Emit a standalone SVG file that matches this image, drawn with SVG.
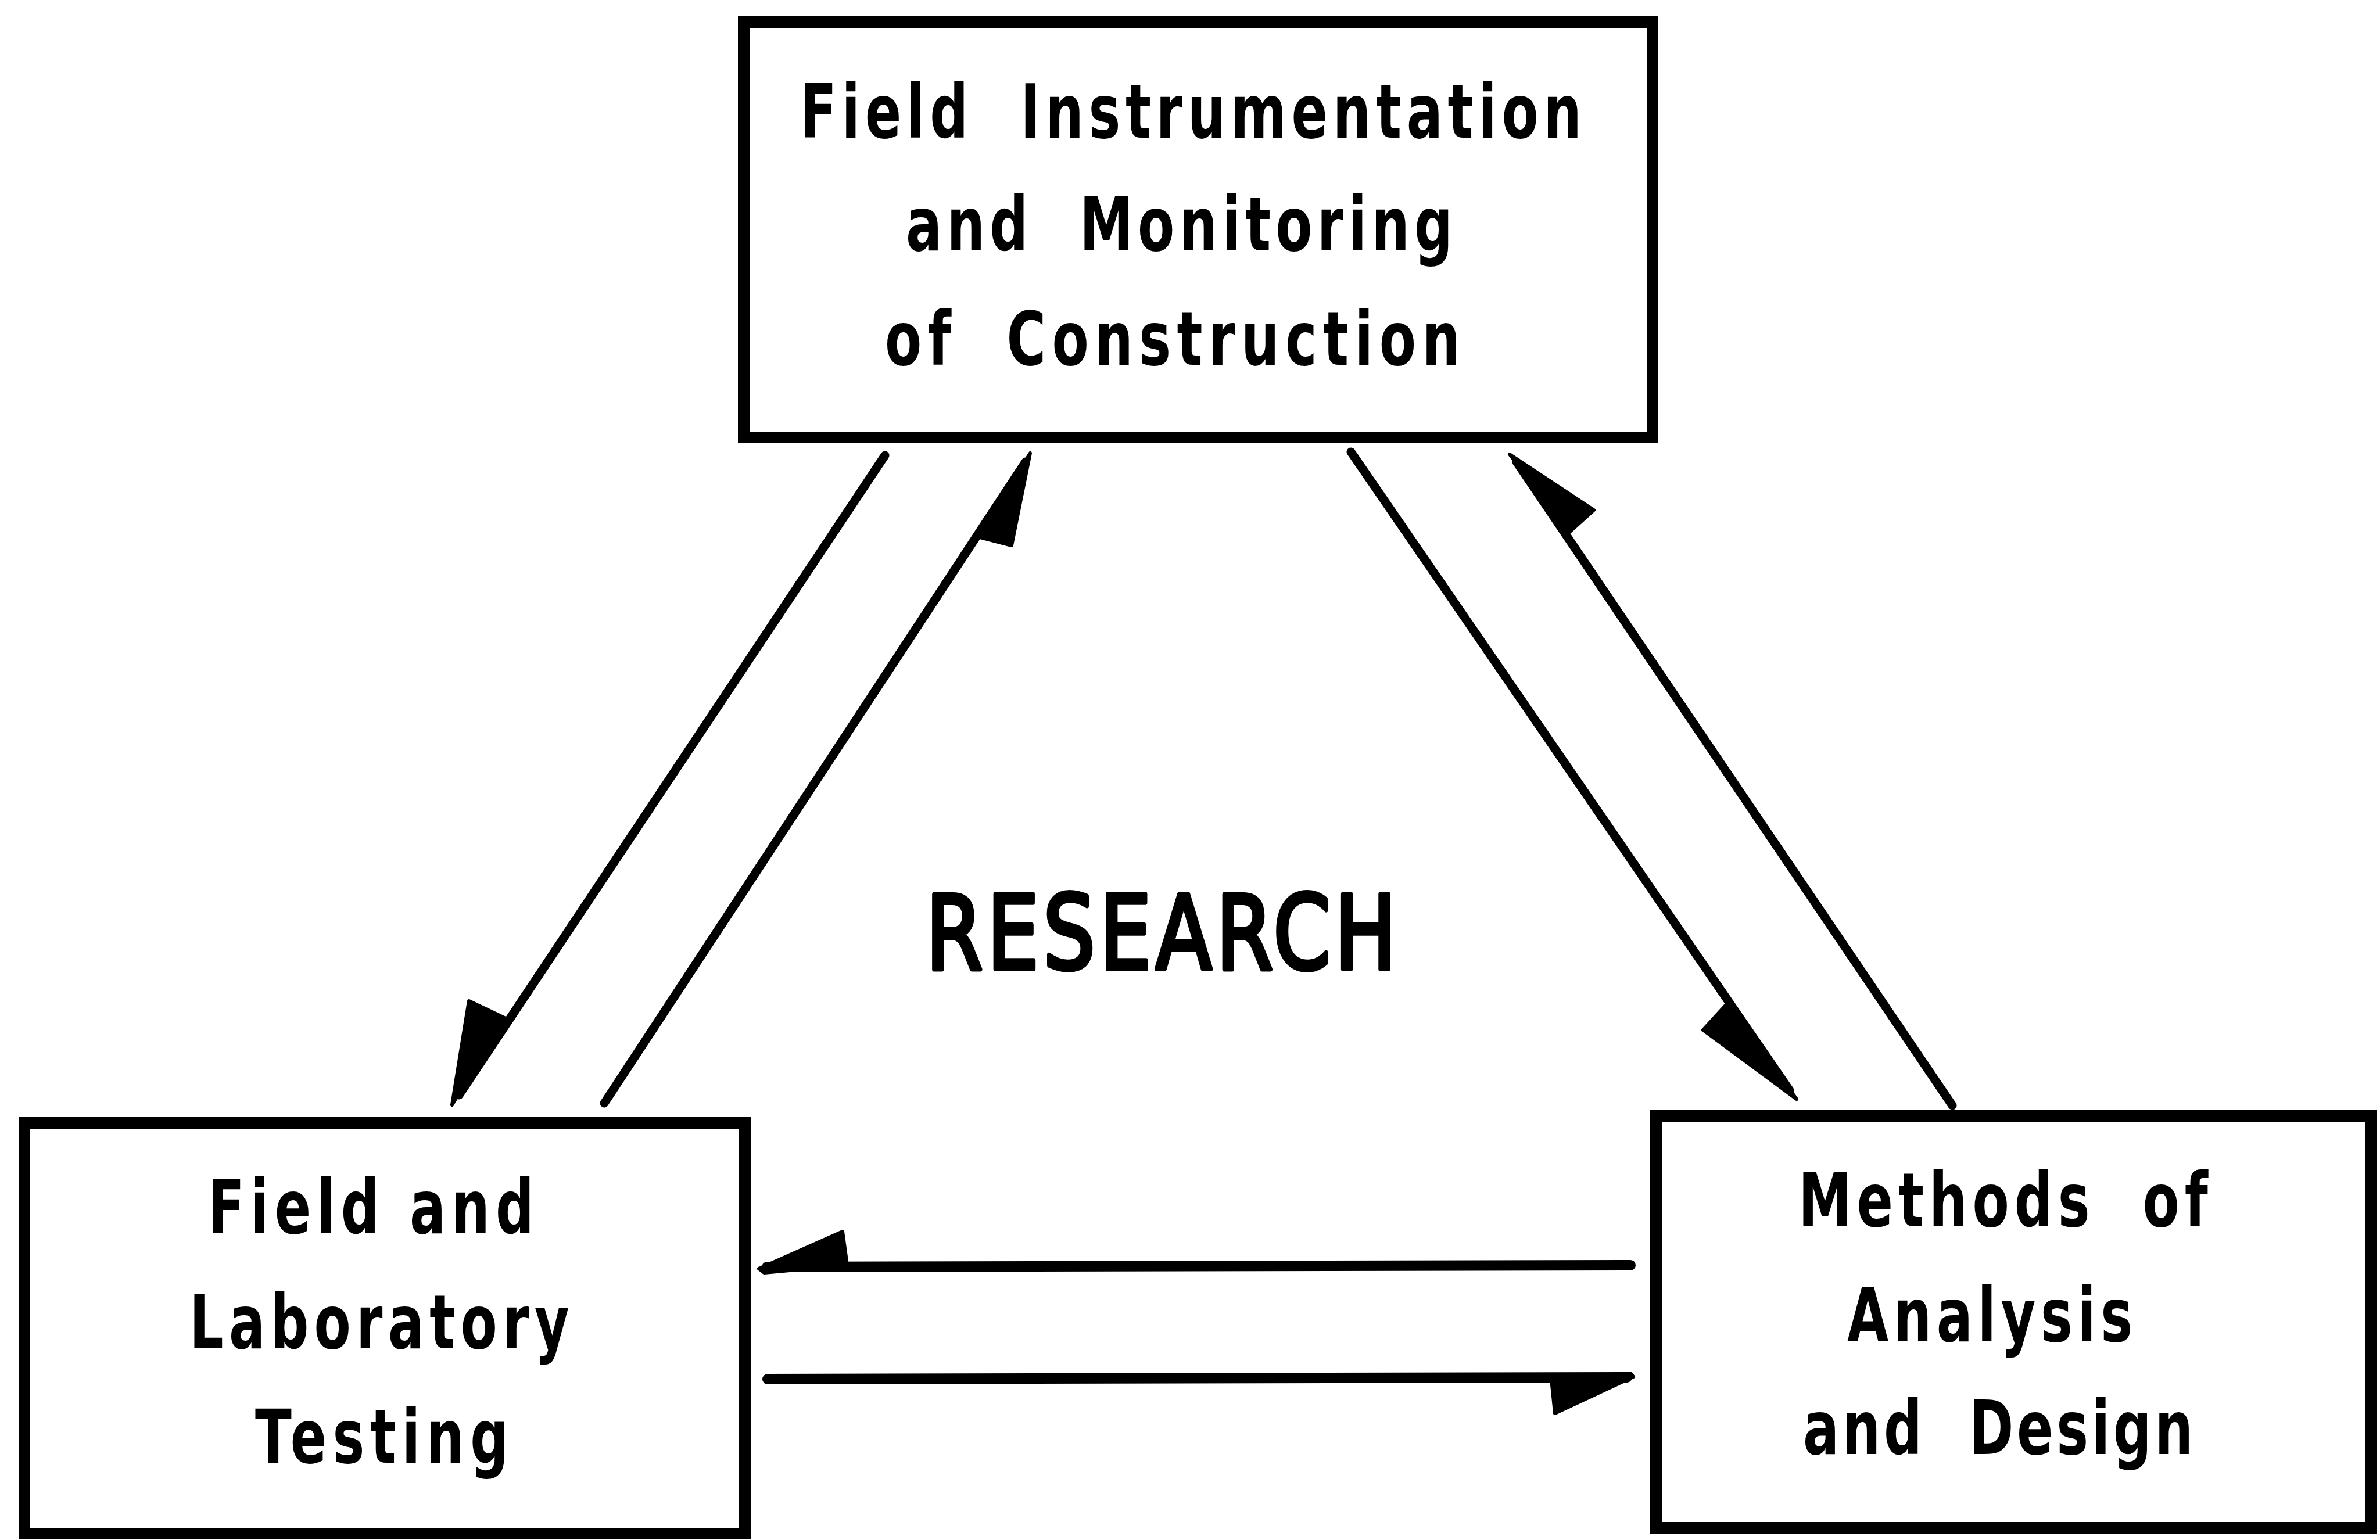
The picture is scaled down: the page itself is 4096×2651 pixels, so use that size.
<svg xmlns="http://www.w3.org/2000/svg" width="4096" height="2651" viewBox="0 0 4096 2651">
<style>
.box{fill:#fff;stroke:#000;stroke-width:20}
.t{font-family:"DejaVu Sans","Liberation Sans",sans-serif;font-size:128px;font-weight:bold;fill:#000;white-space:pre}
.big{font-family:"DejaVu Sans","Liberation Sans",sans-serif;font-size:176px;font-weight:normal;fill:#000;stroke:#000;stroke-width:8;stroke-linejoin:round}
.ln{stroke:#000;stroke-width:15;stroke-linecap:round;fill:none}
.hl{stroke:#000;stroke-width:18;stroke-linecap:round;fill:none}
.hd{fill:#000;stroke:#000;stroke-width:6;stroke-linejoin:round}
</style>
<rect width="4096" height="2651" fill="#fff"/>
<g id="node-top">
<rect class="box" x="1280" y="38" width="1564" height="715"/>
<text class="t" transform="scale(0.72 1)" x="1912.5" y="237" textLength="1868" lengthAdjust="spacing" xml:space="preserve">Field  Instrumentation</text>
<text class="t" transform="scale(0.72 1)" x="2165.3" y="431" textLength="1307" lengthAdjust="spacing" xml:space="preserve">and  Monitoring</text>
<text class="t" transform="scale(0.72 1)" x="2115.3" y="628" textLength="1375" lengthAdjust="spacing" xml:space="preserve">of  Construction</text>
</g>
<g id="node-left">
<rect class="box" x="42" y="1933" width="1240" height="707"/>
<text class="t" transform="scale(0.72 1)" x="497.2" y="2123" textLength="779" lengthAdjust="spacing">Field and</text>
<text class="t" transform="scale(0.72 1)" x="452.8" y="2321" textLength="908" lengthAdjust="spacing">Laboratory</text>
<text class="t" transform="scale(0.72 1)" x="609.7" y="2518" textLength="606" lengthAdjust="spacing">Testing</text>
</g>
<g id="node-right">
<rect class="box" x="2850" y="1921" width="1230" height="709"/>
<text class="t" transform="scale(0.72 1)" x="4298.6" y="2111" textLength="979" lengthAdjust="spacing" xml:space="preserve">Methods  of</text>
<text class="t" transform="scale(0.72 1)" x="4415.3" y="2309" textLength="682" lengthAdjust="spacing">Analysis</text>
<text class="t" transform="scale(0.72 1)" x="4309.7" y="2503" textLength="932" lengthAdjust="spacing" xml:space="preserve">and  Design</text>
</g>
<g id="label-research">
<text class="big" transform="scale(0.8 1)" x="1992" y="1668" textLength="1012" lengthAdjust="spacing">RESEARCH</text>
</g>
<g id="connectors">
<line class="ln" x1="1523" y1="784" x2="790" y2="1885"/>
<polygon class="hd" points="778,1902 807,1723 868,1752"/>
<line class="ln" x1="1040" y1="1899" x2="1765" y2="795"/>
<polygon class="hd" points="1773,780 1741,939 1683,924"/>
<line class="ln" x1="2325" y1="778" x2="3080" y2="1877"/>
<polygon class="hd" points="3092,1892 2931,1773 2973,1727"/>
<line class="ln" x1="3360" y1="1903" x2="2610" y2="795"/>
<polygon class="hd" points="2598,782 2743,878 2701,916"/>
<line class="hl" x1="2806" y1="2178" x2="1320" y2="2181"/>
<polygon class="hd" points="1306,2184 1450,2120 1458,2178 1315,2191"/>
<line class="hl" x1="1321" y1="2374" x2="2800" y2="2371"/>
<polygon class="hd" points="2811,2370 2676,2433 2670,2374 2806,2364"/>
</g>
</svg>
